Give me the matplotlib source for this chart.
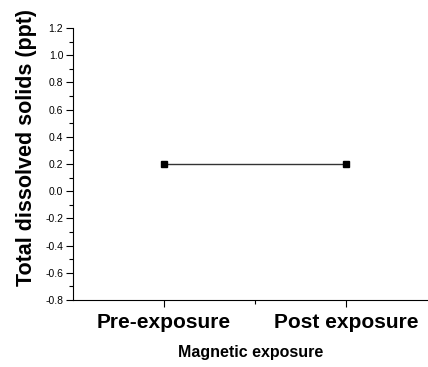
import matplotlib.pyplot as plt
from matplotlib.ticker import MultipleLocator, AutoMinorLocator

plt.rcParams['font.family'] = ['Liberation Sans', 'DejaVu Sans']

# data
categories = ['Pre-exposure', 'Post exposure']
positions = [1, 2]
tds = [0.2, 0.2]

fig = plt.figure(figsize=(4.28, 3.67), dpi=100)
ax = fig.add_axes([73 / 428, (367 - 300) / 367, (428 - 73) / 428, (300 - 28) / 367])

ax.plot(positions, tds, '-', color='#333333', linewidth=1.0,
        marker='s', markersize=5, markerfacecolor='black', markeredgecolor='black')

ax.set_xlim(0.5, 2.45)
ax.set_ylim(-0.8, 1.2)

ax.spines['top'].set_visible(False)
ax.spines['right'].set_visible(False)
for s in ('left', 'bottom'):
    ax.spines[s].set_linewidth(0.8)

ax.yaxis.set_major_locator(MultipleLocator(0.2))
ax.yaxis.set_minor_locator(AutoMinorLocator(2))
ax.set_yticks([-0.8, -0.6, -0.4, -0.2, 0.0, 0.2, 0.4, 0.6, 0.8, 1.0, 1.2])
ax.set_yticklabels(['%.1f' % v for v in ax.get_yticks()], fontsize=7.5)

ax.set_xticks(positions)
ax.set_xticklabels(categories, fontsize=15, fontweight='bold')
ax.set_xticks([1.5], minor=True)

ax.tick_params(axis='both', which='major', direction='out', length=5, width=0.8, pad=2)
ax.tick_params(axis='both', which='minor', direction='out', length=3, width=0.8)
ax.tick_params(axis='x', which='major', pad=4)

ax.set_ylabel('Total dissolved solids (ppt)', fontsize=15.5, fontweight='bold')
ax.yaxis.set_label_coords(-0.102, 0.56)
ax.set_xlabel('Magnetic exposure', fontsize=11.5, fontweight='bold', labelpad=10)

fig.savefig('out.png', dpi=100)
